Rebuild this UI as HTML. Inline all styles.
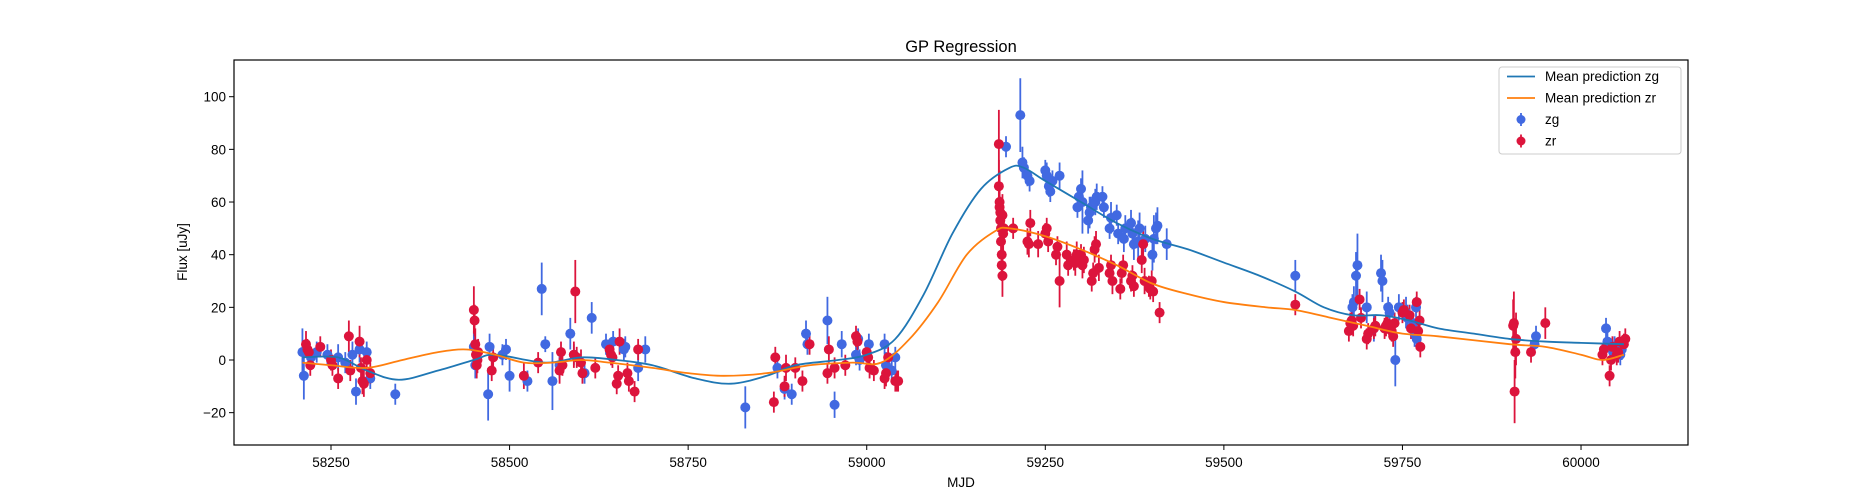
<!DOCTYPE html>
<html><head><meta charset="utf-8">
<style>
html,body{margin:0;padding:0;background:#fff;}
svg{display:block;font-family:"Liberation Sans","DejaVu Sans",sans-serif;}
</style></head>
<body>
<svg id="chart" width="1875" height="500" viewBox="0 0 1875 500">
<rect width="1875" height="500" fill="#fff"/>
<g id="grp-errs"></g>
<g id="grp-pts"></g>
<g id="grp-lines"></g>
<rect x="234" y="60" width="1454" height="385" fill="none" stroke="#000" stroke-width="1.2"/>
<g id="grp-ticks"></g>
<text x="961" y="52" font-size="16.5" text-anchor="middle">GP Regression</text>
<text x="961" y="487" font-size="13.5" text-anchor="middle">MJD</text>
<text x="0" y="0" font-size="13.5" text-anchor="middle" transform="translate(187,252) rotate(-90)">Flux [uJy]</text>
<g>
<rect x="1499" y="67" width="182" height="87" rx="3" fill="#fff" fill-opacity="0.8" stroke="#ccc"/>
<g>
<line x1="1507" y1="76.5" x2="1535" y2="76.5" stroke="#1f77b4" stroke-width="1.8"/>
<text x="1545" y="81" font-size="13.5">Mean prediction zg</text></g>
<g>
<line x1="1507" y1="98" x2="1535" y2="98" stroke="#ff7f0e" stroke-width="1.8"/>
<text x="1545" y="102.5" font-size="13.5">Mean prediction zr</text></g>
<g>
<line x1="1521" y1="113" x2="1521" y2="126" stroke="#4169e1" stroke-width="1.8"/>
<circle cx="1521" cy="119.5" r="4.5" fill="#4169e1"/>
<text x="1545" y="124" font-size="13.5">zg</text></g>
<g>
<line x1="1521" y1="134.5" x2="1521" y2="147.5" stroke="#dc143c" stroke-width="1.8"/>
<circle cx="1521" cy="141" r="4.5" fill="#dc143c"/>
<text x="1545" y="145.5" font-size="13.5">zr</text></g>
</g>
</svg>
<script>
const xTicks = [58250,58500,58750,59000,59250,59500,59750,60000];
const yTicks = [-20,0,20,40,60,80,100];

const zgMjd = [58210,58212,58222,58230,58245,58260,58270,58280,58285,58290,58300,58305,58340,
58450,58452,58470,58472,58490,58495,58500,58525,58545,58550,58560,58570,58585,58590,58605,58615,58635,58645,58660,58662,58680,58690,
58830,58875,58885,58895,58915,58917,58945,58955,58965,58985,58988,58990,59000,59003,59025,59027,59040,59035,
59195,59215,59218,59220,59225,59228,59250,59252,59255,59257,59260,59270,59295,59297,59300,59302,59310,59312,59314,59320,59322,59330,59332,59340,59342,59350,59352,59360,59362,59370,59372,59374,59380,59382,59390,59400,59402,59405,59407,59420,
59600,59680,59682,59685,59687,59700,59710,59720,59722,59730,59732,59740,59745,59755,59757,59765,59767,59769,59770,
59935,59937,60035,60037,60045,60047,60055,60057];
const zgFlux = [3,-6,1,3,2,1,-1,2,-12,4,3,-7,-13,
5,-2,-13,5,2,4,-6,-8,27,6,-8,-2,10,2,-5,16,6,7,4,5,-3,4,
-18,-3,-11,-13,10,6,15,-17,6,2,8,0,3,6,6,-2,1,-4,
81,93,75,73,70,68,72,70,66,64,68,70,58,62,65,60,53,56,58,60,62,62,58,50,54,55,48,46,50,52,48,44,45,50,46,40,46,50,51,44,
32,20,22,32,36,20,12,33,30,20,18,0,20,18,16,14,10,20,8,
6,9,12,7,3,5,2,4];
const zgErr = [9,9,4,4,4,5,4,5,5,5,4,4,4,
6,5,10,5,4,4,6,4,10,3,11,5,6,4,4,6,4,4,4,4,5,5,
8,4,4,4,5,4,9,5,5,4,4,4,4,4,4,5,4,4,
4,14,6,4,4,4,4,5,4,4,4,5,4,4,4,12,5,6,4,5,5,4,4,4,6,4,4,5,5,5,6,6,8,6,5,6,9,6,7,6,
6,5,6,9,12,6,5,7,8,4,4,10,5,6,5,4,5,4,4,
4,4,4,4,4,4,4,4];

const zrMjd = [58215,58217,58219,58221,58235,58250,58252,58260,58275,58277,58290,58292,58294,58296,58300,58305,
58450,58451,58452,58453,58454,58455,58456,58475,58477,58520,58540,58570,58572,58574,58590,58592,58594,58600,58602,58620,58640,58642,58644,58650,58652,58654,58665,58667,58675,58680,
58870,58872,58885,58887,58900,58910,58920,58945,58947,58955,58970,58985,58987,59000,59002,59004,59010,59025,59027,59030,59040,59042,59044,
59185,59185,59186,59186,59187,59187,59188,59188,59189,59189,59190,59190,59191,59192,59205,59225,59227,59229,59240,59250,59252,59254,59265,59267,59270,59280,59282,59290,59292,59294,59300,59302,59304,59315,59317,59319,59321,59325,59340,59342,59344,59355,59357,59359,59370,59372,59374,59385,59387,59389,59395,59397,59399,59401,59410,
59600,59675,59677,59679,59681,59690,59692,59700,59702,59710,59712,59725,59727,59729,59735,59737,59739,59750,59752,59760,59762,59770,59772,59774,59775,
59905,59906,59907,59908,59909,59930,59950,60030,60032,60040,60042,60044,60050,60052,60054,60060,60062];
const zrFlux = [6,4,3,-2,5,0,-2,-7,9,-4,7,-3,-8,-9,0,-5,
19,15,6,2,-2,0,3,-4,1,-6,-1,-4,3,-2,2,26,1,-1,-5,-3,4,2,1,-9,-6,7,-5,-8,-12,4,
-16,1,-10,-3,-3,-8,6,-5,4,-3,-2,9,7,3,1,-3,-4,-7,-5,1,-8,-8,-8,
82,66,60,58,56,53,50,45,40,36,32,55,48,50,50,45,44,52,44,48,50,45,40,43,30,40,36,38,37,40,40,36,38,30,33,42,44,35,33,36,30,27,33,36,30,32,28,38,44,30,28,27,30,26,18,
21,11,14,15,13,23,16,8,10,12,13,12,13,14,11,9,14,18,19,17,12,22,11,15,5,
13,14,-12,3,8,3,14,2,4,-6,0,5,2,3,7,6,8];
const zrErr = [5,4,4,4,4,4,4,4,6,4,6,4,5,5,4,4,
9,6,6,5,5,5,5,4,4,5,4,5,4,4,5,12,4,5,4,4,4,4,4,4,4,5,4,4,4,4,
4,4,4,5,4,4,4,4,5,4,4,4,4,4,4,4,4,4,5,4,4,4,4,
13,10,12,8,6,6,6,6,6,6,8,8,7,6,4,5,5,5,5,4,4,4,4,4,10,5,4,4,5,5,4,5,5,4,4,5,5,5,4,4,5,4,4,4,4,4,4,5,5,5,4,4,4,4,4,
4,4,4,4,4,4,4,4,4,4,4,4,4,4,4,4,4,4,4,4,4,4,4,4,4,
10,12,12,10,10,4,6,4,4,4,4,4,4,4,4,4,4];

const zgLineX = [58210,58260,58300,58345,58400,58450,58480,58550,58600,58650,58700,58760,58810,58860,58900,58960,59000,59040,59080,59120,59160,59200,59220,59250,59300,59350,59400,59450,59500,59550,59600,59640,59680,59720,59760,59800,59850,59900,59950,60000,60060];
const zgLineY = [1,1,-4,-7.5,-4,0,2,-1,1,0,-2,-7,-9,-6,-2,0,2,8,25,48,65,73,73,68,60,52,46,42,37,32,26,20,17,17,15,12,10,8,7,6.5,6];
const zrLineX = [58210,58250,58300,58350,58400,58440,58480,58520,58560,58600,58640,58700,58750,58800,58860,58920,58980,59020,59060,59100,59140,59180,59200,59250,59300,59350,59400,59450,59500,59560,59600,59650,59700,59750,59800,59900,59950,60000,60030,60060];
const zrLineY = [-1,-2,-3,0,3,4,2,-1,-1,0,-1,-3,-5,-6,-5,-2,-1,-1,8,22,40,49,50,47,42,36,29,25,22,20,19,16,13,10,9,6,5,2,0,2];

const NS='http://www.w3.org/2000/svg';
function X(m){return 331+(m-58250)*0.7143;}
function Y(v){return 360-v*2.633;}
function mk(tag,attrs,parent){const e=document.createElementNS(NS,tag);for(const k in attrs)e.setAttribute(k,attrs[k]);parent.appendChild(e);return e;}

const gT=document.getElementById('grp-ticks');
xTicks.forEach(t=>{
  const l=mk('line',{x1:X(t),x2:X(t),y1:445,y2:450,stroke:'#000','stroke-width':1},gT);
  
  
  const tx=mk('text',{x:X(t),y:467,'font-size':13.5,'text-anchor':'middle'},gT);
  tx.textContent=t;
  
  
});
yTicks.forEach(t=>{
  const l=mk('line',{x1:229,x2:234,y1:Y(t),y2:Y(t),stroke:'#000','stroke-width':1},gT);
  
  
  const tx=mk('text',{x:226,y:Y(t)+5,'font-size':13.5,'text-anchor':'end'},gT);
  tx.textContent=String(t).replace('-','\u2212');
  
  
});

const gE=document.getElementById('grp-errs'), gP=document.getElementById('grp-pts');
function drawSeries(mj,fl,er,color,name){
  for(let i=0;i<mj.length;i++){
    const x=X(mj[i]);
    const e=mk('line',{x1:x,x2:x,y1:Y(fl[i]-er[i]),y2:Y(fl[i]+er[i]),stroke:color,'stroke-width':1.8},gE);
    
    
    const c=mk('circle',{cx:x,cy:Y(fl[i]),r:5,fill:color},gP);
    
    
  }
}
drawSeries(zgMjd,zgFlux,zgErr,'#4169e1','zg');
drawSeries(zrMjd,zrFlux,zrErr,'#dc143c','zr');

const gL=document.getElementById('grp-lines');
function smooth(xs,ys){
  const p=xs.map((m,i)=>[X(m),Y(ys[i])]);
  let d='M'+p[0][0]+','+p[0][1];
  for(let i=0;i<p.length-1;i++){
    const p0=p[i-1]||p[i],p1=p[i],p2=p[i+1],p3=p[i+2]||p2;
    const c1=[p1[0]+(p2[0]-p0[0])/6,p1[1]+(p2[1]-p0[1])/6];
    const c2=[p2[0]-(p3[0]-p1[0])/6,p2[1]-(p3[1]-p1[1])/6];
    d+=' C'+c1[0]+','+c1[1]+' '+c2[0]+','+c2[1]+' '+p2[0]+','+p2[1];
  }
  return d;
}
const lg=mk('path',{d:smooth(zgLineX,zgLineY),fill:'none',stroke:'#1f77b4','stroke-width':1.8},gL);


const lr=mk('path',{d:smooth(zrLineX,zrLineY),fill:'none',stroke:'#ff7f0e','stroke-width':1.8},gL);


</script>
</body></html>
